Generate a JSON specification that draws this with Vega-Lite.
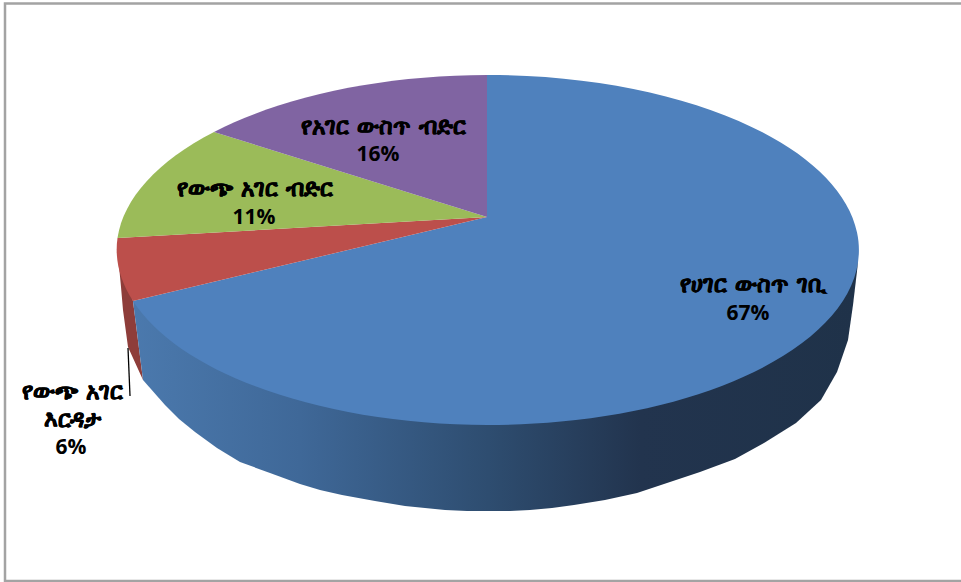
{"$schema":"https://vega.github.io/schema/vega-lite/v6.json","width":961,"height":582,"padding":0,"autosize":{"type":"none"},"background":"white","config":{"view":{"stroke":null}},"data":{"values":[{"label":"የሀገር ውስጥ ገቢ","share":67,"caption":"የሀገር ውስጥ ገቢ","percent":"67%"},{"label":"የውጭ አገር እርዳታ","share":6,"caption":"የውጭ አገር\nእርዳታ","percent":"6%"},{"label":"የውጭ አገር ብድር","share":11,"caption":"የውጭ አገር ብድር","percent":"11%"},{"label":"የአገር ውስጥ ብድር","share":16,"caption":"የአገር ውስጥ ብድር","percent":"16%"}]},"resolve":{"scale":{"x":"independent","y":"independent","color":"independent","shape":"independent"}},"layer":[{"transform":[{"filter":"datum.share==67"}],"mark":{"type":"point","filled":false,"size":4,"opacity":1,"stroke":"#a3a3a3","strokeWidth":2.5,"shape":"M480,-213.5L-482,-213.5L-482,364L480,364"},"encoding":{"x":{"datum":0,"type":"quantitative","scale":{"domain":[-487,474],"nice":false,"zero":false},"axis":null},"y":{"datum":0,"type":"quantitative","scale":{"domain":[-365,217],"nice":false,"zero":false},"axis":null}}},{"transform":[{"filter":"datum.share==6"}],"mark":{"type":"point","filled":true,"size":4,"opacity":1,"fill":"#8e3d3a","shape":"M-369.5,33L-366,70L-364,93L-359,130L-344,163L-354,84Z"},"encoding":{"x":{"datum":0,"type":"quantitative","scale":{"domain":[-487,474],"nice":false,"zero":false},"axis":null},"y":{"datum":0,"type":"quantitative","scale":{"domain":[-365,217],"nice":false,"zero":false},"axis":null}}},{"transform":[{"filter":"datum.share==67"}],"mark":{"type":"point","filled":true,"size":4,"opacity":1,"fill":{"gradient":"linear","x1":0,"x2":1,"y1":0,"y2":0,"stops":[{"offset":0,"color":"#4b79ad"},{"offset":0.23,"color":"#3f6898"},{"offset":0.49,"color":"#2e4d70"},{"offset":0.7,"color":"#22344e"},{"offset":1,"color":"#1f3249"}]},"shape":"M371,33L370.5,50L366,88L361,123L350,155L334,183L309,206L277,226L248,242L213,255L180,266L150,276L118,283L87,288L65,291L43,293L23,294L3,294L-20,294L-42,293L-62,291L-82,289L-112,284L-145,278L-167,273L-187,267L-217,256L-247,245L-270,231L-292,215L-308,202L-322,188L-344,163L-354,84Z"},"encoding":{"x":{"datum":0,"type":"quantitative","scale":{"domain":[-487,474],"nice":false,"zero":false},"axis":null},"y":{"datum":0,"type":"quantitative","scale":{"domain":[-365,217],"nice":false,"zero":false},"axis":null}}},{"mark":{"type":"point","filled":true,"size":4,"opacity":1},"encoding":{"x":{"datum":0,"type":"quantitative","scale":{"domain":[-487,474],"nice":false,"zero":false},"axis":null},"y":{"datum":0,"type":"quantitative","scale":{"domain":[-365,217],"nice":false,"zero":false},"axis":null},"shape":{"field":"label","type":"nominal","legend":null,"scale":{"domain":["የሀገር ውስጥ ገቢ","የውጭ አገር እርዳታ","የውጭ አገር ብድር","የአገር ውስጥ ብድር"],"range":["M0,0L0,-142A371,175,0,1,1,-354,84Z","M0,0L-354,84A371,175,0,0,1,-369.5,21Z","M0,0L-369.5,21A371,175,0,0,1,-273,-85Z","M0,0L-273,-85A371,175,0,0,1,0,-142Z"]}},"color":{"field":"label","type":"nominal","legend":null,"scale":{"domain":["የሀገር ውስጥ ገቢ","የውጭ አገር እርዳታ","የውጭ አገር ብድር","የአገር ውስጥ ብድር"],"range":["#4f81bd","#bc4f4b","#9bbb59","#8064a2"]}}}},{"transform":[{"filter":"datum.share==6"}],"mark":{"type":"point","filled":false,"size":4,"opacity":1,"stroke":"#000000","strokeWidth":1.3,"shape":"M-359,131L-357,179"},"encoding":{"x":{"datum":0,"type":"quantitative","scale":{"domain":[-487,474],"nice":false,"zero":false},"axis":null},"y":{"datum":0,"type":"quantitative","scale":{"domain":[-365,217],"nice":false,"zero":false},"axis":null}}},{"mark":{"type":"text","lineBreak":"\n","font":"DejaVu Sans","fontWeight":"bold","fontSize":23,"lineHeight":28,"color":"#000000","stroke":"#000000","strokeWidth":0.5,"align":"center","baseline":"middle"},"encoding":{"x":{"field":"share","type":"quantitative","scale":{"domain":[6,11,16,67],"range":[72,255,383,753],"nice":false,"zero":false},"axis":null},"y":{"field":"share","type":"quantitative","scale":{"domain":[6,11,16,67],"range":[392,189,127,285],"nice":false,"zero":false},"axis":null},"text":{"field":"caption","type":"nominal"}}},{"mark":{"type":"text","font":"Open Sans","fontWeight":"bold","fontSize":21,"color":"#000000","align":"center","baseline":"middle"},"encoding":{"x":{"field":"share","type":"quantitative","scale":{"domain":[6,11,16,67],"range":[71,254,378,748],"nice":false,"zero":false},"axis":null},"y":{"field":"share","type":"quantitative","scale":{"domain":[6,11,16,67],"range":[448,218,155,314],"nice":false,"zero":false},"axis":null},"text":{"field":"percent","type":"nominal"}}}]}
